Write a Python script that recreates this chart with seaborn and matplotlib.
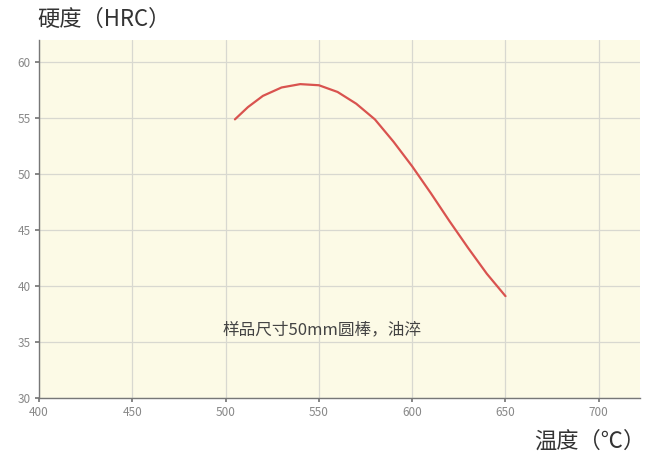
import matplotlib
matplotlib.use("Agg")
import matplotlib.pyplot as plt
import seaborn as sns
import pandas as pd

temperature = [505, 512, 520, 530, 540, 550, 560, 570, 580, 590, 600, 610, 620, 630, 640, 650]
hardness = [54.9, 56.0, 57.0, 57.75, 58.05, 57.95, 57.35, 56.3, 54.9, 52.9, 50.7, 48.3, 45.8, 43.4, 41.1, 39.1]
x_ticks = [400, 450, 500, 550, 600, 650, 700]
y_ticks = [30, 35, 40, 45, 50, 55, 60]

sns.set_theme(style="whitegrid")
plt.rcParams['font.family'] = ['Noto Sans CJK SC', 'DejaVu Sans']

df = pd.DataFrame({"温度": temperature, "硬度": hardness})

fig = plt.figure(figsize=(6.61, 4.59), dpi=100)
ax = fig.add_axes([0.059, 0.133, 0.909, 0.78])
ax.set_facecolor("#fcfae6")
sns.lineplot(data=df, x="温度", y="硬度", ax=ax, color="#d9534f", linewidth=1.6)

ax.set_xlim(400, 722)
ax.set_ylim(30, 62)
ax.set_xticks(x_ticks)
ax.set_yticks(y_ticks)
ax.grid(True, color="#d8d8d0", linewidth=0.9)
ax.tick_params(axis="both", labelsize=8.5, labelcolor="#888888", length=3, color="#777777",
               direction="out", bottom=True, left=True, pad=3)
for s in ["top", "right"]:
    ax.spines[s].set_visible(False)
for s in ["left", "bottom"]:
    ax.spines[s].set_visible(True)
    ax.spines[s].set_color("#777777")
    ax.spines[s].set_linewidth(1.0)
ax.set_xlabel("")
ax.set_ylabel("")

fig.text(0.057, 0.958, "硬度（HRC）", fontsize=16, color="#333333", ha="left", va="center")
fig.text(0.977, 0.038, "温度（℃）", fontsize=16, color="#333333", ha="right", va="center")
ax.text(551.5, 36.1, "样品尺寸50mm圆棒，油淬", fontsize=12, color="#444444", ha="center", va="center")

fig.savefig("out.png", dpi=100)
